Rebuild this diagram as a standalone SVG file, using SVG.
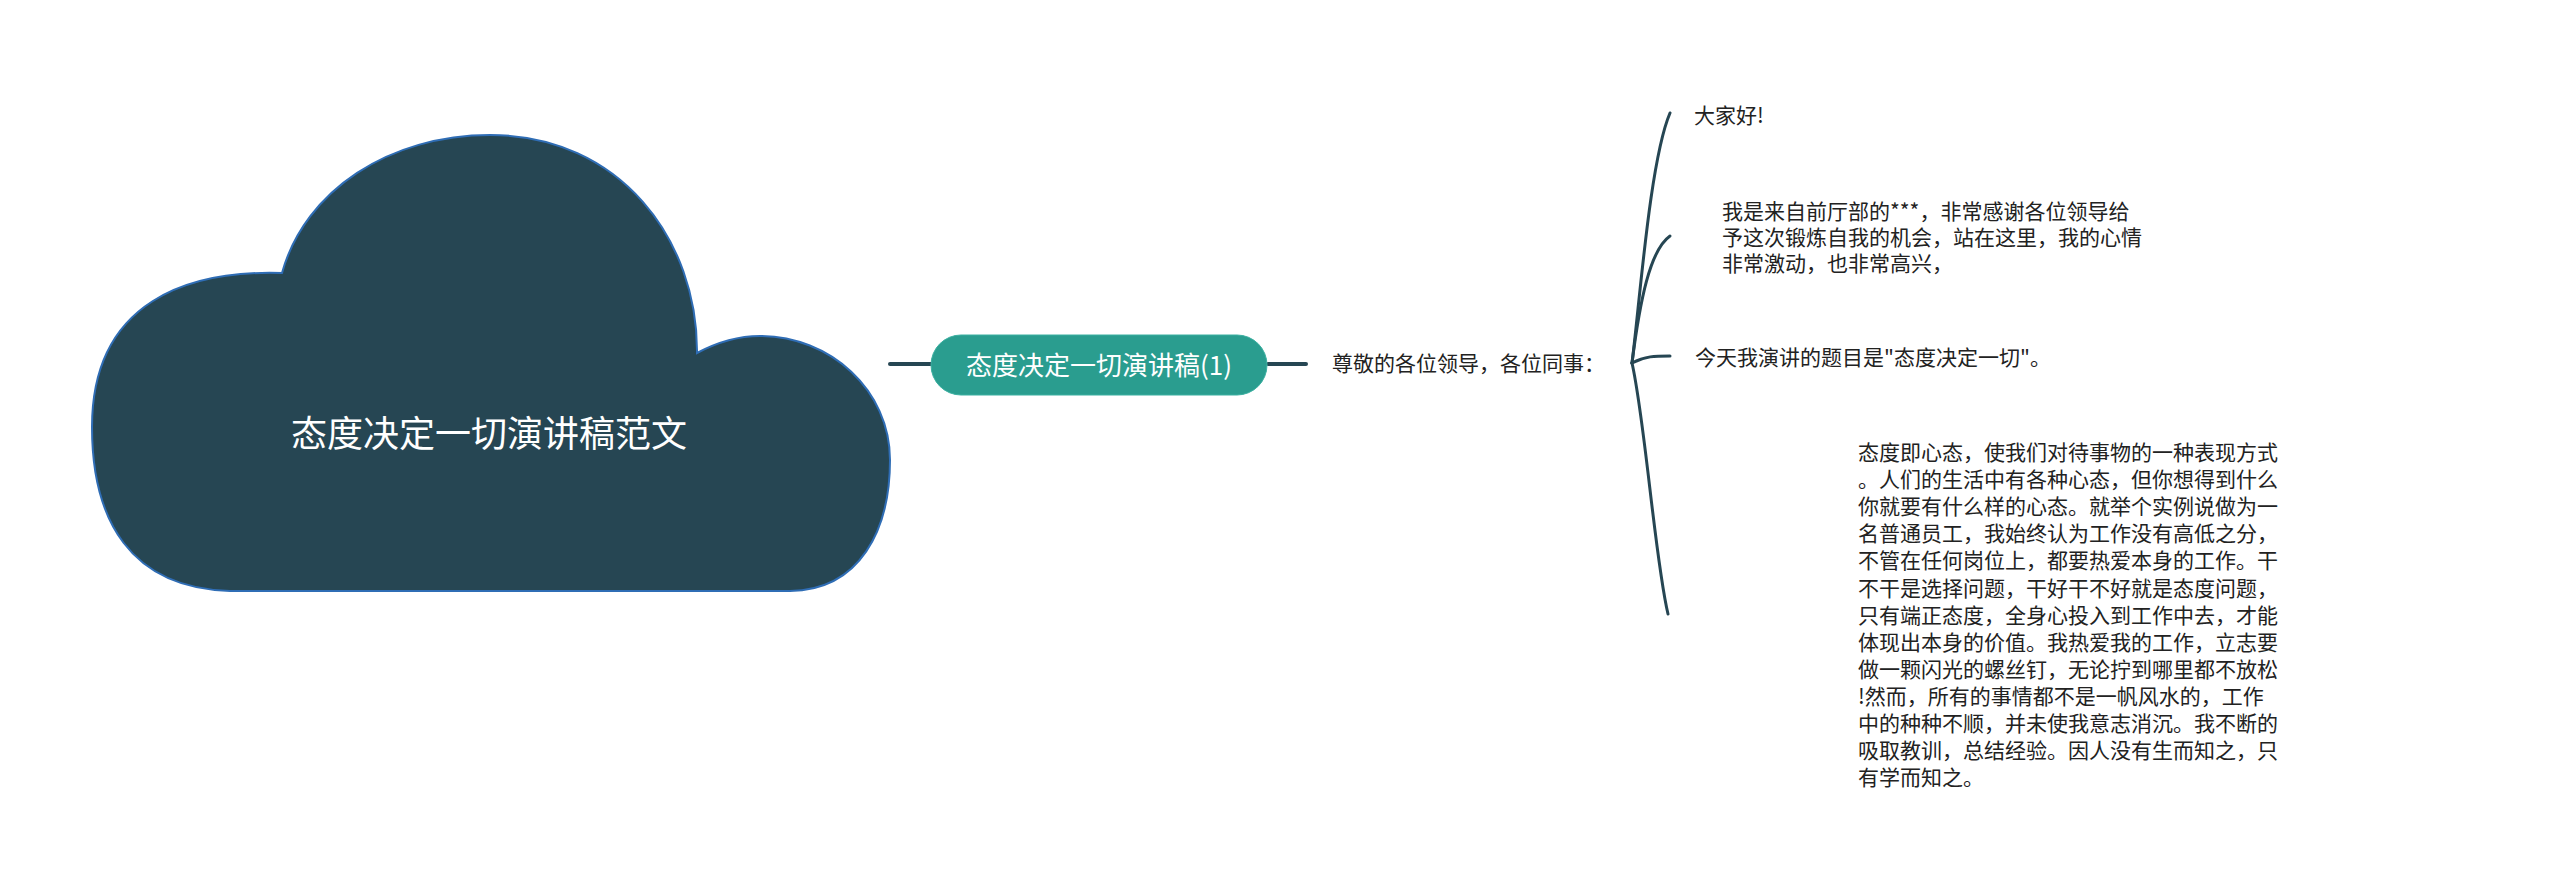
<svg xmlns="http://www.w3.org/2000/svg" width="2560" height="893" viewBox="0 0 2560 893">
<style>
.t{font-family:"Noto Sans CJK SC","Noto Sans",sans-serif;fill:#222;font-size:21px}
.conn{fill:none;stroke:#264653;stroke-linecap:round}
</style>
<rect width="2560" height="893" fill="#ffffff"/>
<g id="connectors">
<line class="conn" x1="890" y1="364" x2="931" y2="364" stroke-width="4"/>
<line class="conn" x1="1268" y1="364" x2="1306" y2="364" stroke-width="4"/>
<path class="conn" stroke-width="3" d="M1632,363 C1640,300 1650,160 1670,113"/>
<path class="conn" stroke-width="3" d="M1632,363 C1640,300 1650,250 1670,236"/>
<path class="conn" stroke-width="3" d="M1632,363 C1645,356 1655,356 1670,356"/>
<path class="conn" stroke-width="3" d="M1632,363 C1645,420 1655,560 1668,614"/>
</g>
<g id="root">
<path d="M282,273 C190,270 92,300 92,427 C92,520 130,588 230,591 L790,591 C860,590 890,530 890,460 C890,390 830,336 760,336 C735,336 712,345 697,353 C698,240 620,135 490,135 C390,135 305,190 282,273 Z" fill="#264653" stroke="#2f6db5" stroke-width="2"/>
<text x="489" y="447" text-anchor="middle" font-family="'Noto Sans CJK SC','Noto Sans',sans-serif" font-size="36" fill="#ffffff">态度决定一切演讲稿范文</text>
</g>
<g id="main">
<rect x="931" y="335" width="336" height="60" rx="30" ry="30" fill="#2a9d8f" stroke="#3bb0a1" stroke-width="1"/>
<text x="1099" y="375" text-anchor="middle" font-family="'Noto Sans CJK SC','Noto Sans',sans-serif" font-size="26" fill="#ffffff">态度决定一切演讲稿(1)</text>
</g>
<g id="greeting">
<text class="t" x="1332" y="371" font-size="20">尊敬的各位领导，各位同事：</text>
</g>
<g id="leaf1">
<text class="t" x="1694" y="123">大家好!</text>
</g>
<g id="leaf2">
<text class="t" x="1722" y="219">我是来自前厅部的***，非常感谢各位领导给</text>
<text class="t" x="1722" y="245">予这次锻炼自我的机会，站在这里，我的心情</text>
<text class="t" x="1722" y="271">非常激动，也非常高兴，</text>
</g>
<g id="leaf3">
<text class="t" x="1695" y="365">今天我演讲的题目是"态度决定一切"。</text>
</g>
<g id="leaf4">
<text class="t" x="1858" y="460">态度即心态，使我们对待事物的一种表现方式</text>
<text class="t" x="1858" y="487">。人们的生活中有各种心态，但你想得到什么</text>
<text class="t" x="1858" y="514">你就要有什么样的心态。就举个实例说做为一</text>
<text class="t" x="1858" y="541">名普通员工，我始终认为工作没有高低之分，</text>
<text class="t" x="1858" y="568">不管在任何岗位上，都要热爱本身的工作。干</text>
<text class="t" x="1858" y="596">不干是选择问题，干好干不好就是态度问题，</text>
<text class="t" x="1858" y="623">只有端正态度，全身心投入到工作中去，才能</text>
<text class="t" x="1858" y="650">体现出本身的价值。我热爱我的工作，立志要</text>
<text class="t" x="1858" y="677">做一颗闪光的螺丝钉，无论拧到哪里都不放松</text>
<text class="t" x="1858" y="704">!然而，所有的事情都不是一帆风水的，工作</text>
<text class="t" x="1858" y="731">中的种种不顺，并未使我意志消沉。我不断的</text>
<text class="t" x="1858" y="758">吸取教训，总结经验。因人没有生而知之，只</text>
<text class="t" x="1858" y="785">有学而知之。</text>
</g>
</svg>
